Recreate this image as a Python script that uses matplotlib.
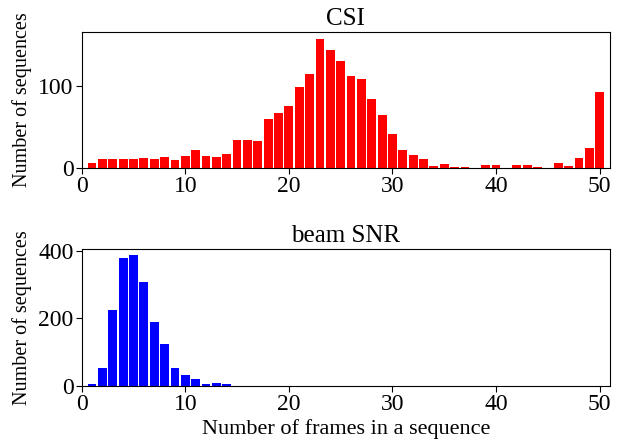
import numpy as np
import matplotlib
matplotlib.use("Agg")
import matplotlib.pyplot as plt

# frames per sequence (1..50)
frames = np.arange(1, 51)

# CSI counts per sequence length
csi_counts = [6, 11, 11, 11, 11, 12, 11, 13, 10, 15,
              22, 15, 13, 17, 34, 34, 33, 60, 67, 76,
              99, 115, 158, 144, 130, 112, 108, 84, 65, 41,
              22, 16, 11, 2, 5, 1, 1, 0, 4, 4,
              0, 4, 4, 1, 0, 6, 2, 12, 24, 93]

# beam SNR counts per sequence length
snr_counts = [5, 53, 225, 379, 388, 308, 189, 124, 52, 32,
              20, 5, 8, 5] + [0] * 36

plt.rcParams['font.family'] = ['Liberation Serif', 'DejaVu Serif']

fig = plt.figure(figsize=(6.35, 4.45), dpi=100)
ax1 = fig.add_axes([0.1287, 0.6225, 0.8319, 0.3055])
ax2 = fig.add_axes([0.1287, 0.1333, 0.8319, 0.3065])

ax1.bar(frames, csi_counts, width=0.85, color='red')
ax1.set_title("CSI", fontsize=18, pad=5)
ax1.set_ylabel("Number of sequences", fontsize=14.5)
ax1.set_xlim(0, 51)
ax1.set_xticks([0, 10, 20, 30, 40, 50])
ax1.set_yticks([0, 100])

snr_mask = np.array(snr_counts) > 0
ax2.bar(frames[snr_mask], np.array(snr_counts)[snr_mask], width=0.85, color='blue')
ax2.set_title("beam SNR", fontsize=18, pad=5)
ax2.set_ylabel("Number of sequences", fontsize=14.5)
ax2.set_xlabel("Number of frames in a sequence", fontsize=16, labelpad=3)
ax2.set_xlim(0, 51)
ax2.set_ylim(0, 404)
ax2.set_xticks([0, 10, 20, 30, 40, 50])
ax2.set_yticks([0, 200, 400])

for ax in (ax1, ax2):
    ax.tick_params(labelsize=17, length=4, pad=2)

fig.savefig("out.png", dpi=100)
